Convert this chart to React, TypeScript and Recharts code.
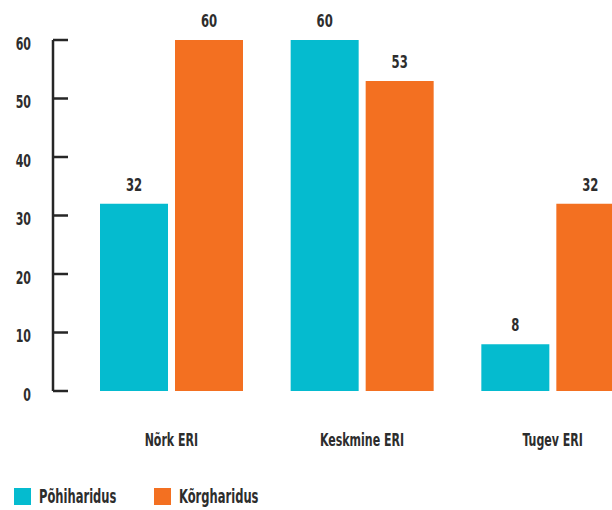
import React from "react";
import { BarChart, Bar, XAxis, YAxis, LabelList } from "recharts";

const categories = ["Nõrk ERI", "Keskmine ERI", "Tugev ERI"];
const pohiharidus = [32, 60, 8];
const korgharidus = [60, 53, 32];
const seriesNames = ["Põhiharidus", "Kõrgharidus"];
const seriesColors = ["#05BBCF", "#F37021"];
const yTicks = [0, 10, 20, 30, 40, 50, 60];

const data = categories.map((c, i) => ({
  name: c,
  p: pohiharidus[i],
  k: korgharidus[i],
}));

const FONT = "'DejaVu Sans Condensed', 'DejaVu Sans', sans-serif";
const TXT = "#2d2d2d";
const SX = 0.68;

const CondText = ({ x, y, anchor, size, children, sx = SX }: any) => (
  <text
    transform={`translate(${x},${y}) scale(${sx},1)`}
    x={0}
    y={0}
    textAnchor={anchor}
    fill={TXT}
    fontFamily={FONT}
    fontWeight="bold"
    fontSize={size}
  >
    {children}
  </text>
);

const YTick = (props: any) => {
  const { x, y, payload } = props;
  return (
    <g>
      <line x1={x} x2={x + 15} y1={y} y2={y} stroke="#262626" strokeWidth={2.5} />
      <CondText x={x - 22} y={y + 9.5} anchor="end" size={17} sx={0.72}>
        {payload.value}
      </CondText>
    </g>
  );
};

const XTick = (props: any) => {
  const { x, y, payload } = props;
  return (
    <CondText x={x} y={y + 55} anchor="middle" size={18}>
      {payload.value}
    </CondText>
  );
};

const ValueLabel = (props: any) => {
  const { x, y, width, value } = props;
  return (
    <CondText x={x + width / 2} y={y - 13} anchor="middle" size={18} sx={0.72}>
      {value}
    </CondText>
  );
};

export default function App() {
  const legendX = [14, 154];
  return (
    <div style={{ position: "absolute", left: 0, top: 0, width: 612, height: 510, overflow: "hidden", background: "#fff" }}>
      <BarChart
        width={648}
        height={510}
        data={data}
        margin={{ top: 40, right: 0, bottom: 59, left: 0 }}
        barSize={68}
        barGap={7}
      >
        <XAxis
          dataKey="name"
          axisLine={false}
          tickLine={false}
          tickSize={0}
          tickMargin={0}
          height={60}
          padding={{ left: 23, right: 0 }}
          tick={<XTick />}
          interval={0}
        />
        <YAxis
          domain={[0, 60]}
          ticks={yTicks}
          width={53}
          axisLine={{ stroke: "#262626", strokeWidth: 2.5 }}
          tickLine={false}
          tickSize={0}
          tickMargin={0}
          tick={<YTick />}
          interval={0}
        />
        <Bar dataKey="p" fill={seriesColors[0]} isAnimationActive={false}>
          <LabelList dataKey="p" content={<ValueLabel />} />
        </Bar>
        <Bar dataKey="k" fill={seriesColors[1]} isAnimationActive={false}>
          <LabelList dataKey="k" content={<ValueLabel />} />
        </Bar>
      </BarChart>
      {seriesNames.map((n, i) => (
        <div key={n}>
          <div
            style={{
              position: "absolute",
              left: legendX[i],
              top: 488,
              width: 17,
              height: 17,
              background: seriesColors[i],
            }}
          />
          <div
            style={{
              position: "absolute",
              left: legendX[i] + 25,
              top: 484,
              fontFamily: FONT,
              fontWeight: "bold",
              fontSize: 20,
              lineHeight: "24px",
              color: TXT,
              whiteSpace: "nowrap",
              transform: `scale(0.64,1)`,
              transformOrigin: "0 0",
            }}
          >
            {n}
          </div>
        </div>
      ))}
    </div>
  );
}
